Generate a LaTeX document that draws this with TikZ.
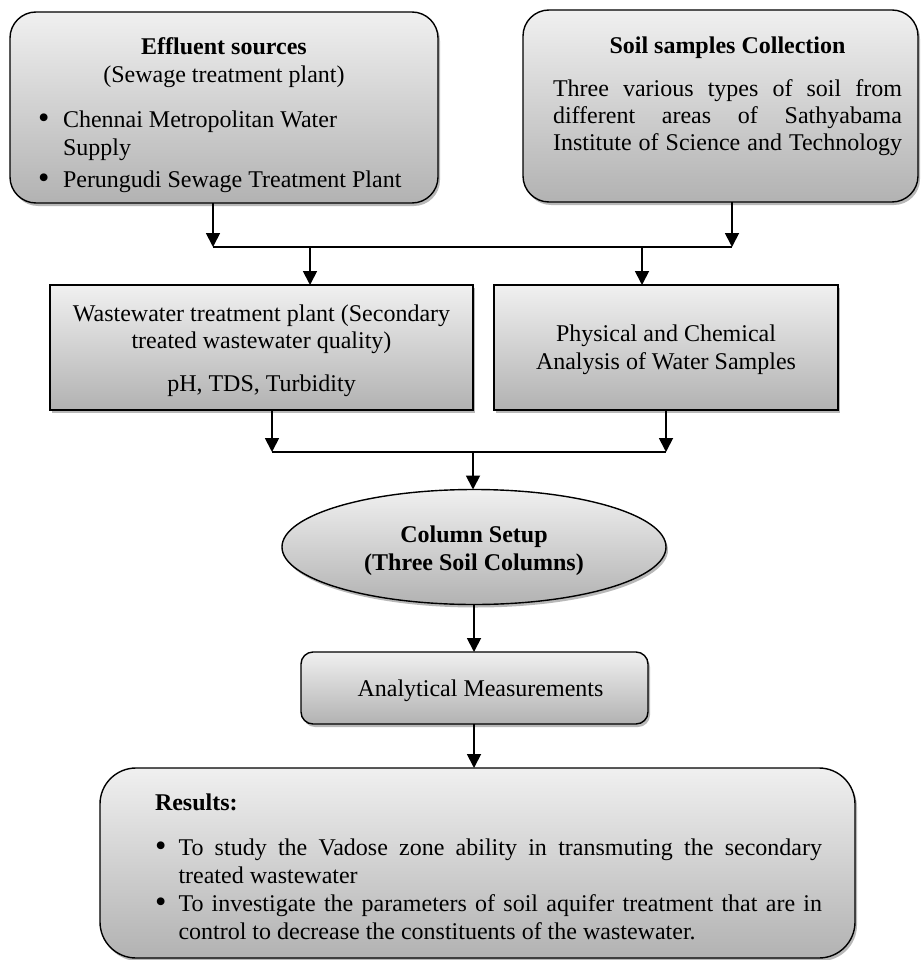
\documentclass[tikz,border=0pt]{standalone}
\usepackage{fontspec}
\usepackage{graphicx}
\setmainfont{Liberation Serif}
\usetikzlibrary{shapes.geometric,arrows.meta,shadows}
\definecolor{gtop}{RGB}{240,240,240}
\definecolor{gbot}{RGB}{178,178,178}
\newcommand{\boxtext}[3]{\begin{minipage}[c][#2][t]{#1}\fontsize{24}{28}\selectfont\parindent=0pt\parskip=0pt #3\end{minipage}}
\newcommand{\txl}[4]{\hspace*{#1}\makebox[#2][#3]{\strut #4}\par}
\newcommand{\bigbul}{\raisebox{-1pt}{\scalebox{1.35}{\textbullet}}}
\tikzset{
  box/.style={draw=black, line width=1.4pt, top color=gtop, bottom color=gbot,
    inner sep=0pt, outer sep=0pt,
    drop shadow={shadow xshift=2pt, shadow yshift=-3pt, opacity=0.28, fill=black}},
  rbox/.style={box, rectangle, rounded corners=26pt},
  sbox/.style={box, rectangle},
  ebox/.style={box, ellipse, minimum width=384pt, minimum height=115pt},
  conn/.style={line width=1.8pt},
  arr/.style={conn, -{Triangle[width=14pt,length=14pt]}},
}
\begin{document}
\begin{tikzpicture}[x=1pt,y=-1pt]
\useasboundingbox (0,0) rectangle (921,960);

% Effluent sources
\node[rbox] (eff) at (224,107.5) {\boxtext{428pt}{191pt}{%
\vspace*{23.4pt}
\txl{0pt}{428pt}{c}{\bfseries Effluent sources}
\txl{0pt}{428pt}{c}{(Sewage treatment plant)}
\vspace{17pt}
\txl{28pt}{390pt}{l}{\makebox[25pt][l]{\bigbul}Chennai Metropolitan Water}
\txl{53pt}{360pt}{l}{Supply}
\vspace{4pt}
\txl{28pt}{390pt}{l}{\makebox[25pt][l]{\bigbul}Perungudi Sewage Treatment Plant}
}};

% Soil samples
\node[rbox] (soil) at (720.5,106) {\boxtext{395pt}{192pt}{%
\vspace*{24.4pt}
\txl{30pt}{349pt}{c}{\bfseries Soil samples Collection}
\vspace{14.7pt}
\txl{30pt}{349pt}{s}{Three various types of soil from}
\vspace{-1pt}
\txl{30pt}{349pt}{s}{different areas of Sathyabama}
\vspace{-1pt}
\txl{30pt}{349pt}{s}{Institute of Science and Technology}
}};

% Wastewater treatment plant
\node[sbox] (ww) at (261.5,347.5) {\boxtext{423pt}{125pt}{%
\vspace*{16.4pt}
\txl{0pt}{423pt}{c}{Wastewater treatment plant (Secondary}
\vspace{-1pt}
\txl{0pt}{423pt}{c}{treated wastewater quality)}
\vspace{15.7pt}
\txl{0pt}{423pt}{c}{pH, TDS, Turbidity}
}};

% Physical and chemical analysis
\node[sbox] (phys) at (666,347.5) {\boxtext{344pt}{125pt}{%
\vspace*{37.1pt}
\txl{0pt}{344pt}{c}{Physical and Chemical}
\vspace{-0.7pt}
\txl{0pt}{344pt}{c}{Analysis of Water Samples}
}};

% Column setup
\node[ebox] (col) at (474,547) {\boxtext{250pt}{70pt}{%
\vspace*{11.1pt}
\txl{0pt}{250pt}{c}{\bfseries Column Setup}
\vspace{-0.7pt}
\txl{0pt}{250pt}{c}{\bfseries (Three Soil Columns)}
}};

% Analytical measurements
\node[box, rectangle, rounded corners=12pt] (anal) at (474.5,688) {\boxtext{347pt}{72pt}{%
\vspace*{25.1pt}
\txl{12pt}{335pt}{c}{Analytical Measurements}
}};

% Results
\node[box, rectangle, rounded corners=36pt] (res) at (477.5,863) {\boxtext{755pt}{190pt}{%
\vspace*{22.4pt}
\txl{55pt}{300pt}{l}{\bfseries Results:}
\vspace{17pt}
\txl{55pt}{667pt}{l}{\makebox[23.5pt][l]{\bigbul}\makebox[643.5pt][s]{To study the Vadose zone ability in transmuting the secondary}}
\txl{78.5pt}{600pt}{l}{treated wastewater}
\vspace{0.5pt}
\txl{55pt}{667pt}{l}{\makebox[23.5pt][l]{\bigbul}\makebox[643.5pt][s]{To investigate the parameters of soil aquifer treatment that are in}}
\txl{78.5pt}{600pt}{l}{control to decrease the constituents of the wastewater.}
}};

% junction coordinates
\coordinate (j1) at (213,247);
\coordinate (j2) at (732,247);
\coordinate (j3) at (310,247);
\coordinate (j4) at (642,247);
\coordinate (k1) at (272,452);
\coordinate (k2) at (666,452);
\coordinate (k3) at (473,452);

% connectors
\draw[arr] (eff.south -| j1) -- (j1);
\draw[arr] (soil.south -| j2) -- (j2);
\draw[conn] (j1) -- (j2);
\draw[arr] (j3) -- (ww.north -| j3);
\draw[arr] (j4) -- (phys.north -| j4);
\draw[arr] (ww.south -| k1) -- (k1);
\draw[arr] (phys.south -| k2) -- (k2);
\draw[conn] (k1) -- (k2);
\draw[arr] (k3) -- (col.north -| k3);
\draw[arr] (col.south) -- (col.south |- anal.north);
\draw[arr] (anal.south -| col.south) -- (col.south |- res.north);
\end{tikzpicture}
\end{document}
